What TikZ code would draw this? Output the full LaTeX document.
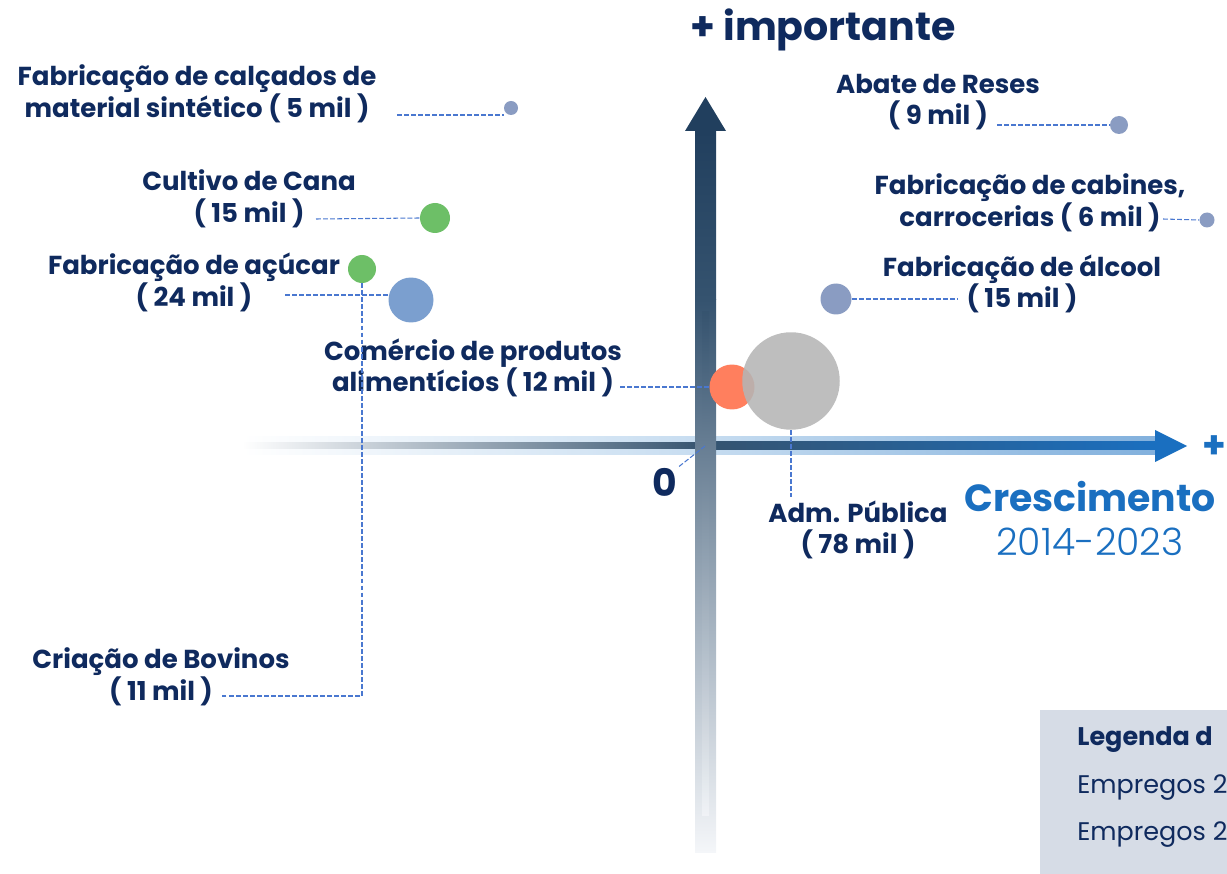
\documentclass[tikz,border=0pt]{standalone}
\usepackage{fontspec}
\setmainfont{Poppins}
\newfontfamily\lightfont{Poppins}[UprightFont=* Light]
\usetikzlibrary{calc}

\definecolor{navy}{HTML}{0F2A5E}
\definecolor{axisdark}{HTML}{213F5E}
\definecolor{axismid}{HTML}{35536F}
\definecolor{axislight}{HTML}{C6DCF0}
\definecolor{axisblue}{HTML}{1A6FC0}
\definecolor{shaftlow}{HTML}{B5C1CD}
\definecolor{shaftend}{HTML}{F4F6F9}
\definecolor{linkblue}{HTML}{4A78D0}
\definecolor{dotgray}{HTML}{8A9CC2}
\definecolor{dotgreen}{HTML}{6DBF67}
\definecolor{dotblue}{HTML}{7B9FCF}
\definecolor{dotorange}{HTML}{FF7F5E}
\definecolor{dotsilver}{HTML}{B5B5B5}
\definecolor{legendbg}{HTML}{D6DCE6}

\tikzset{
  lbl/.style={font=\bfseries\fontsize{14.8}{18}\selectfont, text=navy, align=center, inner sep=0pt},
  bigtxt/.style={font=\bfseries\fontsize{21.5}{24}\selectfont, inner sep=0pt},
  legtxt/.style={font=\fontsize{14.5}{16}\selectfont, text=navy, anchor=west, inner sep=0pt},
  conn/.style={draw=linkblue, dash pattern=on 2.8pt off 1.2pt, line width=0.6pt},
  bubble/.style={circle, inner sep=0pt, minimum size=#1},
}

\begin{document}
\begin{tikzpicture}[x=0.02cm, y=-0.02cm]
        \useasboundingbox (0,0) rectangle (1227,874);
        \clip (0,0) rectangle (1227,874);

        % x axis
        \shade[left color=white, right color=axislight] (242,437) rectangle (705,455);
        \shade[left color=white, right color=axismid] (242,443) rectangle (705,449);
        \shade[left color=axislight, right color=axisblue!55] (705,437) rectangle (1158,455);
        \shade[left color=axismid, right color=axisblue] (705,442) rectangle (1158,450);
        \fill[axisblue] (1155,430) -- (1187,446) -- (1155,462) -- cycle;

        % y axis
        \shade[top color=axisdark, bottom color=axismid] (695,131) rectangle (716,300);
        \shade[top color=axismid, middle color=shaftlow, bottom color=shaftend] (695,300) rectangle (716,852);
        \shade[top color=axismid, bottom color=shaftend, opacity=0.7] (702,312) rectangle (709,815);
        \fill[axisdark] (685,131) -- (705.5,97) -- (726,131) -- cycle;
        \coordinate (origin) at (705,446);

        % legend
        \fill[legendbg] (1040,710) rectangle (1240,880);
        \node[legtxt, font=\bfseries\fontsize{14.5}{16}\selectfont] (legTitle) at (1077,740) {Legenda d};
        \node[legtxt] (legA) at (1077,788) {Empregos 2};
        \node[legtxt] (legB) at (1077,835) {Empregos 2};

        % bubbles
        \node[bubble=0.28cm, fill=dotgray] (bCalc) at (511,108) {};
        \node[bubble=0.60cm, fill=dotgreen] (bCana) at (435,218) {};
        \node[bubble=0.56cm, fill=dotgreen] (bAcucar) at (362,269) {};
        \node[bubble=0.90cm, fill=dotblue] (bBovinos) at (411,300) {};
        \node[bubble=0.36cm, fill=dotgray] (bAbate) at (1119,125) {};
        \node[bubble=0.30cm, fill=dotgray] (bCabines) at (1207,220) {};
        \node[bubble=0.62cm, fill=dotgray] (bAlcool) at (836,299) {};
        \node[bubble=0.90cm, fill=dotorange] (bComercio) at (732,387) {};
        \node[bubble=1.95cm, fill=dotsilver, fill opacity=0.88] (bAdm) at (791,381) {};

        % labels, left side
        \node[lbl] (lCalc) at (197,94) {Fabricação de calçados de\\material sintético ( 5 mil )};
        \node[lbl] (lCana) at (249,198.5) {Cultivo de Cana\\( 15 mil )};
        \node[lbl] (lAcucar) at (194,282.5) {Fabricação de açúcar\\( 24 mil )};
        \node[lbl] (lComercio) at (473,368) {Comércio de produtos\\alimentícios ( 12 mil )};
        \node[lbl] (lBovinos) at (161,677) {Criação de Bovinos\\( 11 mil )};
        % labels, right side
        \node[lbl] (lAbate) at (938,102) {Abate de Reses\\( 9 mil )};
        \node[lbl] (lCabines) at (1030,202.5) {Fabricação de cabines,\\carrocerias ( 6 mil )};
        \node[lbl] (lAlcool) at (1022,284) {Fabricação de álcool\\( 15 mil )};
        \node[lbl] (lAdm) at (858,530) {Adm. Pública\\( 78 mil )};

        % axis titles
        \node[bigtxt, font=\bfseries\fontsize{22.5}{24}\selectfont, text=navy] (yTitle) at (823,30) {+ importante};
        \node[bigtxt, text=axisblue] (xTitle) at (1090,497) {Crescimento};
        \node[bigtxt, font=\lightfont\fontsize{21.5}{24}\selectfont, text=axisblue] (xYears) at (1090,542) {2014-2023};
        \node[bigtxt, text=axisblue] (xPlus) at (1214,447) {+};
        \node[bigtxt, text=navy] (zero) at (665,482) {0};

        % connectors
        \coordinate (cCalc) at (397,115);
        \coordinate (cCana) at (316,219);
        \coordinate (cAcucar) at (285,295);
        \coordinate (cBovinos) at (220,696);
        \coordinate (cComercio) at (620,387);
        \coordinate (cAdm) at (791,497);
        \coordinate (cAbate) at (997,125);
        \coordinate (cCabines) at (1163,219);
        \coordinate (cAlcool) at (958,299);
        \draw[conn] (cCalc) -- (cCalc -| bCalc.west);
        \draw[conn] (cCana) -- (bCana.west);
        \draw[conn] (cAcucar) -- (cAcucar -| bBovinos.west);
        \draw[conn] (bAcucar.south) |- (cBovinos);
        \draw[conn] (cComercio) -- (bComercio.west);
        \draw[conn] (bAdm.south) -- (cAdm);
        \draw[conn] (origin) -- (zero.north east);
        \draw[conn] (cAbate) -- (bAbate.west);
        \draw[conn] (cCabines) -- (bCabines.west);
        \draw[conn] (bAlcool.east) -- (cAlcool);
\end{tikzpicture}
\end{document}
